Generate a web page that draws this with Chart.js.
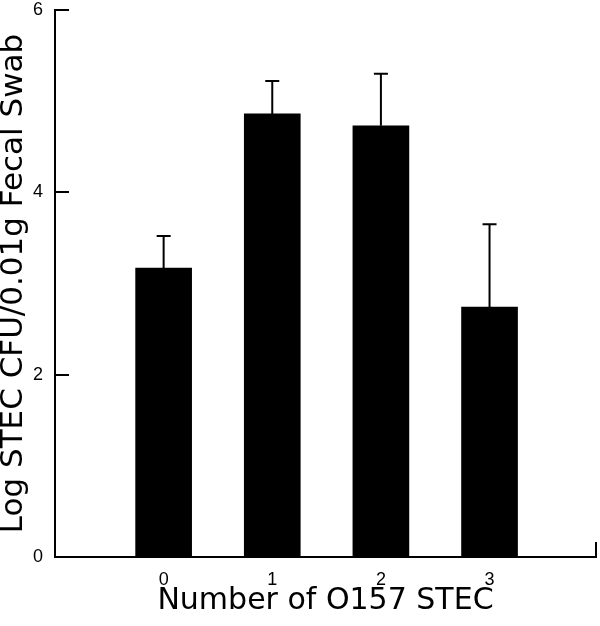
<!DOCTYPE html>
<html>
<head>
<meta charset="utf-8">
<script src="https://cdn.jsdelivr.net/npm/chart.js@4.4.1/dist/chart.umd.min.js"></script>
<style>
  html, body { margin: 0; padding: 0; background: #ffffff; }
  #wrap { width: 600px; height: 626px; }
  canvas { display: block; }
</style>
</head>
<body>
<div id="wrap"><canvas id="c" width="600" height="626"></canvas></div>
<script>
const categories = ['0', '1', '2', '3'];
const means = [3.17, 4.86, 4.73, 2.74];
const errors = [0.35, 0.36, 0.57, 0.91];
const yTicks = [0, 2, 4, 6];
const xTitle = 'Number of O157 STEC';
const yTitle = 'Log STEC CFU/0.01g Fecal Swab';

const points = categories.map((c, i) => ({ x: i, y: means[i] }));

const decorPlugin = {
  id: 'decor',
  afterDatasetsDraw(chart) {
    const ctx = chart.ctx;
    const ys = chart.scales.y;
    const meta = chart.getDatasetMeta(0);
    ctx.save();
    ctx.strokeStyle = '#000';
    ctx.lineWidth = 2;
    meta.data.forEach((el, i) => {
      const top = ys.getPixelForValue(means[i] + errors[i]);
      ctx.beginPath();
      ctx.moveTo(el.x, el.y);
      ctx.lineTo(el.x, top);
      ctx.moveTo(el.x - 7, top);
      ctx.lineTo(el.x + 7, top);
      ctx.stroke();
    });
    ctx.restore();
  },
  afterDraw(chart) {
    const ctx = chart.ctx;
    const ys = chart.scales.y;
    const area = chart.chartArea;
    ctx.save();
    ctx.strokeStyle = '#000';
    ctx.lineWidth = 2;
    ctx.beginPath();
    yTicks.forEach(v => {
      if (v === 0) return;
      const py = Math.round(ys.getPixelForValue(v));
      ctx.moveTo(area.left, py);
      ctx.lineTo(area.left + 14, py);
    });
    ctx.moveTo(area.right, area.bottom);
    ctx.lineTo(area.right, area.bottom - 15);
    ctx.stroke();
    ctx.restore();
  }
};

new Chart(document.getElementById('c'), {
  type: 'bar',
  data: {
    datasets: [{
      data: points,
      backgroundColor: '#000000',
      borderWidth: 0,
      barThickness: 56
    }]
  },
  options: {
    responsive: false,
    animation: false,
    layout: { padding: { top: 10, right: 4, left: 0, bottom: 0 } },
    plugins: { legend: { display: false }, tooltip: { enabled: false } },
    scales: {
      x: {
        type: 'linear',
        offset: false,
        bounds: 'data',
        min: -1,
        max: 3.98,
        grid: { display: false, drawTicks: false },
        border: { display: true, color: '#000', width: 2 },
        afterFit(scale) {
          scale.height = 69;
          scale.paddingLeft = 0;
          scale.paddingRight = 0;
        },
        afterBuildTicks(scale) {
          scale.ticks = categories.map((c, i) => ({ value: i }));
        },
        ticks: {
          autoSkip: false,
          maxRotation: 0,
          padding: 12,
          color: '#000',
          font: { family: 'Liberation Sans', size: 18 },
          callback: (v) => categories[v] !== undefined ? categories[v] : ''
        },
        title: {
          display: true,
          text: xTitle,
          color: '#000',
          font: { family: 'DejaVu Sans', size: 30, lineHeight: 1 },
          padding: { top: 0, bottom: 10 }
        }
      },
      y: {
        min: 0,
        max: 6,
        grid: { display: false, drawTicks: false },
        border: { display: true, color: '#000', width: 2 },
        afterFit(scale) {
          scale.width = 55;
          scale.paddingTop = 0;
          scale.paddingBottom = 0;
        },
        afterBuildTicks(scale) {
          scale.ticks = yTicks.map(v => ({ value: v }));
        },
        ticks: {
          padding: 12,
          color: '#000',
          font: { family: 'Liberation Sans', size: 18 }
        },
        title: {
          display: true,
          text: yTitle,
          color: '#000',
          font: { family: 'DejaVu Sans', size: 31, lineHeight: 0.8 },
          padding: { top: 2, bottom: 0 }
        }
      }
    }
  },
  plugins: [decorPlugin]
});
</script>
</body>
</html>
